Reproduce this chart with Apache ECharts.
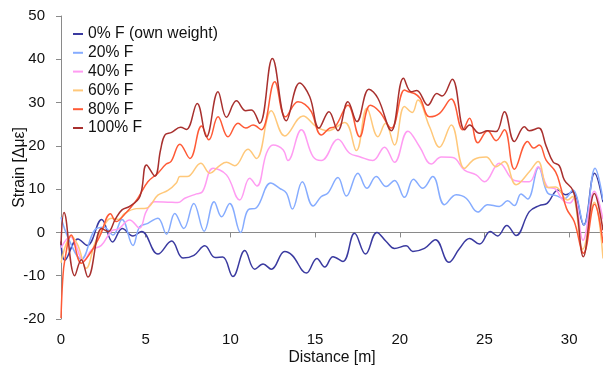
<!DOCTYPE html>
<html>
<head>
<meta charset="utf-8">
<script src="https://cdn.jsdelivr.net/npm/echarts@6/dist/echarts.min.js"></script>
<style>
html,body{margin:0;padding:0;background:#fff;}
#chart{width:603px;height:365px;}
</style>
</head>
<body>
<div id="chart"></div>
<script>
// Series names
const seriesNames = ['0% F (own weight)', '20% F', '40% F', '60% F', '80% F', '100% F'];

// 0% F (own weight)
const dist0 = [0, 0.22, 1.0, 1.55, 2.4, 3.05, 3.62, 4.25, 4.76, 5.72, 6.53, 7.2, 7.85, 8.49, 9.1, 9.55, 10.15, 10.85, 11.44, 11.93, 12.42, 13.21, 13.65, 14.49, 15.11, 15.57, 16.06, 16.65, 17.33, 17.98, 18.65, 19.2, 19.69, 20.38, 20.77, 21.46, 22.11, 22.9, 23.53, 24.12, 24.71, 25.34, 25.78, 26.32, 26.87, 27.65, 28.24, 28.7, 29.35, 29.8, 30.21, 30.86, 31.5, 32];
const strain0 = [-2.1, -6.4, -1.5, -3.0, 3.0, -2.2, 0.9, -0.8, 0.2, -5.0, -2.0, -5.9, -5.3, -3.1, -5.8, -5.7, -10.2, -4.2, -8.5, -7.3, -8.5, -4.4, -5.3, -9.4, -6.0, -8.0, -5.6, -6.7, -0.2, -5.0, 0.0, -2.1, -3.7, -3.1, -4.4, -3.7, -1.7, -6.9, -3.7, -1.4, -2.7, 0.2, -0.8, 1.6, -0.7, 4.8, 6.2, 6.7, 9.8, 8.7, 9.4, 1.7, 13.7, 7.0];

// 20% F
const dist20 = [0, 0.45, 1.2, 2.0, 2.55, 3.07, 3.6, 4.25, 4.64, 5.13, 5.72, 6.23, 6.72, 7.25, 7.84, 8.45, 9.04, 9.48, 9.96, 10.6, 11.04, 11.54, 12.38, 12.91, 13.31, 13.66, 14.25, 14.88, 15.37, 15.76, 16.35, 16.85, 17.53, 18.06, 18.61, 19.2, 19.69, 20.28, 20.81, 21.36, 21.95, 22.64, 23.33, 23.92, 24.61, 25.19, 25.88, 26.37, 26.77, 27.16, 27.55, 28.2, 28.73, 29.23, 29.72, 30.21, 30.88, 31.53, 32];
const strain20 = [3.5, -1.5, -6.2, 0.6, 1.2, -0.6, 3.0, -3.0, 1.3, 2.1, 3.3, -0.4, 4.4, 0.9, 6.7, 0.3, 7.1, 3.6, 6.7, 0.0, 5.2, 5.7, 11.4, 10.2, 9.1, 5.4, 11.7, 6.1, 8.3, 9.1, 12.7, 8.4, 13.7, 10.2, 12.9, 10.6, 12.0, 8.1, 12.3, 10.2, 12.9, 6.4, 8.7, 7.9, 4.7, 6.4, 6.0, 7.3, 6.2, 8.9, 7.7, 15.0, 9.1, 8.5, 7.8, 9.8, 1.7, 14.8, 7.5];

// 40% F
const dist40 = [0, 0.55, 1.35, 1.8, 2.38, 3.0, 3.4, 4.05, 4.64, 5.03, 5.52, 6.31, 6.9, 7.31, 8.0, 8.35, 8.98, 9.77, 10.55, 11.14, 11.57, 12.13, 12.52, 13.11, 13.4, 14.19, 14.88, 15.37, 16.35, 17.04, 17.63, 18.41, 19.1, 19.69, 20.48, 21.17, 21.86, 22.45, 23.13, 23.82, 24.51, 25.0, 25.88, 26.77, 27.65, 28.17, 28.73, 29.2, 29.62, 30.05, 30.3, 30.82, 31.49, 32];
const strain40 = [-3.5, -1.0, -6.5, -4.0, -3.0, 0.4, 0.8, 2.9, 1.0, 4.8, 7.1, 7.0, 6.9, 7.9, 8.9, 9.4, 14.8, 13.3, 7.5, 12.5, 10.7, 18.3, 20.2, 19.1, 16.6, 23.7, 17.5, 16.6, 21.5, 18.3, 17.5, 16.6, 19.7, 16.2, 23.4, 19.8, 15.8, 17.4, 17.3, 14.4, 13.3, 11.7, 16.0, 12.0, 11.7, 15.2, 10.5, 10.0, 7.5, 6.8, 8.0, -1.8, 9.5, 3.0];

// 60% F
const dist60 = [0, 0.61, 1.0, 1.49, 2.0, 2.38, 2.97, 3.4, 3.76, 4.44, 5.03, 5.72, 6.31, 6.82, 7.02, 7.45, 8.25, 8.79, 9.35, 9.77, 10.26, 11.04, 11.54, 12.42, 13.21, 14.29, 15.08, 15.76, 16.75, 17.44, 18.06, 18.71, 19.16, 19.69, 20.28, 20.74, 21.07, 21.76, 22.35, 23.04, 23.82, 24.41, 25.1, 25.69, 26.18, 26.87, 27.65, 28.17, 28.73, 29.2, 29.9, 30.2, 30.8, 31.49, 32];
const strain60 = [-7.0, -0.8, -3.0, -8.3, -2.5, 0.4, 3.3, 3.0, 4.4, 5.5, 5.6, 8.6, 9.7, 11.5, 12.9, 12.9, 16.0, 13.7, 15.4, 16.2, 15.4, 19.2, 17.1, 28.1, 22.3, 26.9, 24.4, 23.5, 25.4, 18.9, 28.7, 22.1, 25.2, 20.2, 29.1, 27.7, 30.6, 24.4, 19.7, 24.8, 14.8, 16.9, 17.4, 15.2, 16.4, 11.0, 14.0, 16.4, 10.4, 10.5, 7.5, 8.3, -3.9, 7.0, -6.0];

// 80% F
const dist80 = [0, 0.1, 0.22, 0.61, 1.2, 1.79, 2.3, 2.92, 3.26, 3.76, 4.25, 4.54, 5.13, 5.72, 6.21, 6.5, 7.02, 7.61, 8.3, 8.73, 9.27, 9.86, 10.45, 10.91, 11.34, 11.83, 12.62, 13.26, 13.99, 14.4, 14.78, 15.37, 15.86, 16.2, 16.94, 17.63, 18.26, 18.81, 19.5, 20.28, 20.5, 20.87, 21.2, 21.76, 22.35, 23.04, 23.72, 24.12, 24.61, 25.19, 25.69, 26.18, 26.77, 27.55, 27.9, 28.24, 28.64, 29.2, 29.5, 29.85, 30.3, 30.85, 31.5, 32];
const strain80 = [-19.8, -11.0, -6.5, -0.6, -7.1, -4.4, -0.8, 4.3, 2.5, 4.2, 6.4, 7.9, 11.7, 13.7, 15.8, 16.4, 20.4, 17.1, 24.6, 21.4, 26.7, 22.1, 25.2, 24.1, 24.8, 23.7, 34.8, 26.7, 30.2, 29.6, 27.9, 22.5, 24.1, 24.5, 29.4, 22.1, 29.4, 27.9, 24.1, 32.9, 32.5, 32.1, 31.0, 26.7, 27.5, 30.8, 23.7, 26.4, 20.7, 23.5, 21.2, 23.7, 14.6, 21.0, 19.5, 20.2, 16.7, 14.0, 10.5, 5.5, 2.5, -4.8, 6.5, -2.5];

// 100% F
const dist100 = [0, 0.18, 0.81, 1.2, 1.59, 2.4, 2.78, 3.2, 3.6, 4.05, 4.66, 5.05, 5.54, 5.88, 6.13, 6.53, 7.06, 7.41, 8.04, 8.59, 9.27, 9.77, 10.36, 10.91, 11.24, 11.73, 12.48, 13.3, 14.09, 14.68, 15.23, 15.82, 16.35, 16.94, 17.47, 18.18, 18.71, 19.5, 20.22, 20.68, 21.0, 21.66, 22.19, 22.5, 23.1, 23.82, 24.12, 24.71, 25.19, 25.69, 26.18, 26.77, 27.36, 27.65, 28.2, 28.64, 29.05, 29.42, 29.72, 30.21, 30.45, 30.84, 31.49, 32];
const strain100 = [-2.9, 4.6, -10.0, -6.3, -10.3, 0.9, 0.2, 3.0, 5.2, 6.0, 8.3, 15.6, 13.0, 19.1, 22.5, 23.1, 24.3, 23.8, 29.8, 22.1, 32.5, 26.6, 30.4, 28.1, 28.3, 25.2, 40.2, 25.8, 34.5, 31.4, 24.1, 27.9, 23.5, 30.2, 25.6, 33.1, 31.0, 23.5, 35.6, 32.5, 32.8, 29.4, 32.1, 31.5, 35.4, 23.7, 24.8, 22.9, 23.5, 23.3, 27.9, 21.0, 24.4, 23.5, 24.1, 20.0, 16.3, 15.4, 12.1, 9.8, 5.5, -5.6, 9.0, 0.5];

// Tick labels
const xTicks = [0, 5, 10, 15, 20, 25, 30];
const yTicks = [-20, -10, 0, 10, 20, 30, 40, 50];

const colors = ['#3a3aa0', '#86acff', '#ff9cf2', '#ffc87a', '#ff5a36', '#a8302e'];
const dists = [dist0, dist20, dist40, dist60, dist80, dist100];
const strains = [strain0, strain20, strain40, strain60, strain80, strain100];

const chart = echarts.init(document.getElementById('chart'));
const FONT = '"Liberation Sans", Arial, sans-serif';

chart.setOption({
  animation: false,
  color: colors,
  textStyle: { fontFamily: FONT },
  grid: { left: 61, right: 0, top: 16, bottom: 46, containLabel: false, outerBoundsMode: 'none' },
  legend: {
    orient: 'vertical',
    left: 73,
    top: 26,
    padding: 0,
    itemGap: 2.8,
    itemWidth: 10,
    itemHeight: 2,
    icon: 'rect',
    data: seriesNames,
    textStyle: { fontSize: 15.7, color: '#111', fontFamily: FONT, lineHeight: 16 }
  },
  xAxis: {
    type: 'value',
    min: 0, max: 32, interval: 5,
    name: 'Distance [m]',
    nameLocation: 'middle',
    nameGap: 31,
    nameMoveOverlap: false,
    nameTextStyle: { fontSize: 15.7, color: '#111', fontFamily: FONT },
    axisLine: { lineStyle: { color: '#8a8a8a', width: 1 } },
    axisTick: { show: true, length: 5, lineStyle: { color: '#8a8a8a' }, customValues: xTicks },
    axisLabel: { fontSize: 15, color: '#111', margin: 13, fontFamily: FONT, customValues: xTicks },
    splitLine: { show: false }
  },
  yAxis: {
    type: 'value',
    min: -20, max: 50, interval: 10,
    name: 'Strain [Δμε]',
    nameLocation: 'middle',
    nameGap: 33,
    nameMoveOverlap: false,
    nameRotate: 90,
    nameTextStyle: { fontSize: 15.7, color: '#111', fontFamily: FONT },
    axisLine: { show: true, lineStyle: { color: '#8a8a8a', width: 1 } },
    axisTick: { show: true, length: 5, lineStyle: { color: '#8a8a8a' }, customValues: yTicks },
    axisLabel: { fontSize: 15, color: '#111', margin: 16, fontFamily: FONT, customValues: yTicks },
    splitLine: { show: false }
  },
  series: seriesNames.map((name, i) => ({
    name: name,
    type: 'line',
    data: dists[i].map((d, j) => [d, strains[i][j]]),
    showSymbol: false,
    smooth: 0.4,
    clip: true,
    lineStyle: { width: 1.5, color: colors[i] },
    itemStyle: { color: colors[i] }
  }))
});
</script>
</body>
</html>
